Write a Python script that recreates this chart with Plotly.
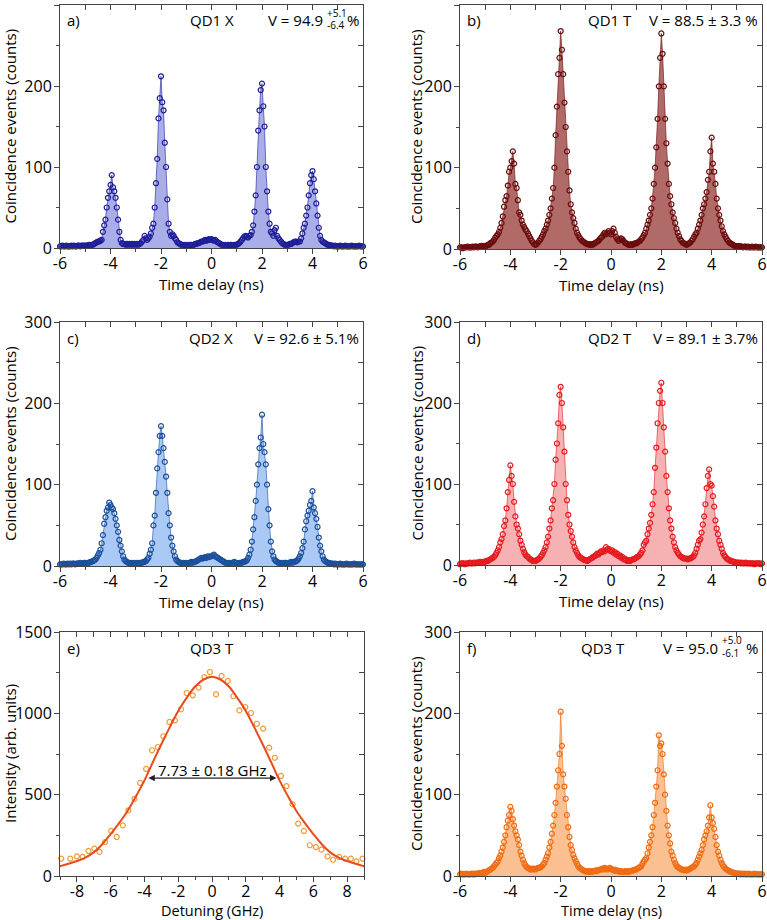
import numpy as np
import plotly.graph_objects as go

W, H = 767, 920
FONT = "Open Sans"
AX = "#444444"

# ---------------- data ----------------
time_delay = np.round(np.linspace(-6, 6, 241), 2)  # ns, 0.05 ns bins

qd1x_counts = (
    [2,2,3,2,2,3,2,2,2,3,2,3,2,2,3,3,2,3,3,3] +
    [3,3,3,4,3,4,4,5,6,7,8,8,9,10,20,28,35,50,62,70] +
    [78,90,75,70,62,50,35,20,10,6,5,5,4,5,4,5,4,5,4,5] +
    [4,5,4,5,6,8,10,15,12,10,12,14,18,25,30,50,80,110,160,185] +
    [212,180,170,130,100,60,30,20,15,17,15,12,10,7,6,5,4,4,3,4] +
    [3,4,3,4,4,3,4,5,5,6,6,7,8,8,9,10,9,10,11,10] +
    [11,10,9,10,8,7,6,5,4,4,3,4,3,4,3,4,4,3,4,4] +
    [4,5,6,8,10,12,14,15,14,13,15,16,20,28,45,65,100,145,170,195] +
    [203,175,150,100,70,45,30,20,18,15,22,25,15,12,10,8,6,5,4,4] +
    [4,4,5,5,6,7,8,8,7,8,8,12,18,25,30,40,50,65,80,90] +
    [95,85,70,55,40,25,15,10,8,7,6,5,4,4,3,3,3,2,3,2] +
    [2,2,3,2,2,2,3,2,2,2,2,3,2,2,2,2,2,3,2,2,2]
)

qd1t_counts = (
    [2,2,1,2,2,2,3,2,2,2,3,2,3,3,2,3,3,4,3,4] +
    [3,4,5,5,7,8,9,11,14,16,18,21,26,32,40,52,60,65,78,95] +
    [100,108,120,105,80,75,60,45,42,35,30,27,24,22,19,16,13,10,8,6] +
    [5,6,8,10,12,15,18,22,25,30,35,42,50,62,75,100,140,175,215,235] +
    [268,245,215,180,150,120,95,72,55,45,38,32,25,20,17,14,12,10,9,8] +
    [7,6,6,5,6,5,6,7,8,9,10,12,14,15,18,20,18,20,22,20] +
    [18,22,25,20,15,12,10,12,13,12,10,8,7,6,5,5,6,5,6,7] +
    [7,8,9,10,12,14,17,20,25,30,35,42,50,62,80,100,125,160,200,235] +
    [265,240,200,160,130,105,80,65,55,45,38,32,25,20,16,12,10,8,7,6] +
    [5,6,7,8,10,12,15,18,20,25,30,35,42,50,55,62,70,85,95,120] +
    [137,105,95,80,62,50,42,35,28,22,18,15,12,10,8,7,6,5,4,4] +
    [3,3,4,3,3,2,3,3,2,3,2,2,3,2,2,3,2,2,2,2,2]
)

qd2x_counts = (
    [2,2,2,3,2,2,3,2,3,2,3,3,2,3,3,3,4,3,3,4] +
    [4,3,4,4,5,5,6,7,8,10,13,16,20,28,38,52,60,68,72,78] +
    [75,72,70,65,58,50,42,32,25,18,12,8,6,5,4,4,3,4,3,4] +
    [3,4,3,4,4,4,5,5,6,8,10,15,20,28,50,62,90,120,140,160] +
    [172,160,145,128,110,90,65,50,35,25,18,12,8,6,5,4,4,3,4,3] +
    [4,3,4,4,5,4,5,5,6,7,8,9,10,9,10,11,10,12,11,12] +
    [12,13,14,12,11,10,9,8,7,6,5,4,4,3,4,3,4,3,5,4] +
    [4,3,4,4,4,5,5,6,7,10,14,20,30,45,60,80,100,125,145,158] +
    [186,150,140,125,100,70,50,30,18,12,8,6,5,4,4,3,4,3,4,4] +
    [3,4,4,5,4,5,5,6,7,9,12,16,22,30,45,55,62,68,75,80] +
    [92,72,65,58,48,35,25,18,12,8,6,5,4,4,3,3,3,2,3,2] +
    [2,2,3,2,2,2,2,3,2,2,2,2,2,3,2,2,2,2,2,2,2]
)

qd2t_counts = (
    [1,2,2,2,1,2,2,2,3,2,2,3,2,3,3,3,4,3,4,4] +
    [4,5,5,6,7,8,9,10,12,15,18,22,28,32,38,48,55,70,90,105] +
    [123,110,100,78,60,50,45,38,30,25,20,16,13,11,10,8,7,6,5,5] +
    [5,6,7,8,10,12,15,18,22,28,35,45,55,70,80,100,130,150,175,210] +
    [220,200,170,140,100,80,62,50,42,35,28,22,18,15,12,10,9,8,7,6] +
    [6,5,6,7,8,9,10,11,12,14,13,15,17,16,18,17,22,19,20,18] +
    [17,18,15,16,13,14,11,12,9,10,7,8,6,5,6,5,6,7,7,8] +
    [9,10,11,13,15,18,25,28,30,38,45,52,62,75,90,120,145,175,200,215] +
    [225,200,170,140,110,90,70,55,45,35,28,22,18,15,13,11,10,9,8,8] +
    [8,7,8,8,9,10,12,15,20,25,30,32,40,50,60,75,95,110,118,100] +
    [98,85,72,55,45,38,30,25,20,15,12,10,8,7,6,5,5,4,4,3] +
    [3,3,3,2,3,2,2,3,2,2,2,2,2,2,1,2,2,2,2,1,2]
)

qd3t_counts = (
    [2,3,2,2,2,3,2,2,2,3,2,3,2,3,3,3,4,3,4,5] +
    [4,5,6,7,8,9,10,12,14,16,18,22,25,30,35,42,50,60,68,75] +
    [85,80,70,62,55,50,45,38,30,25,20,16,13,11,10,9,8,9,8,9] +
    [8,9,10,10,11,12,14,16,20,24,28,35,42,52,62,75,90,110,130,150] +
    [202,160,125,110,95,75,60,48,38,32,26,22,18,15,12,10,9,8,7,6] +
    [6,5,6,5,6,5,6,6,7,6,7,8,8,9,8,10,9,8,9,10] +
    [9,8,7,8,6,7,6,5,6,5,5,6,5,6,5,6,6,7,7,8] +
    [8,9,10,11,12,15,18,20,22,28,35,42,50,60,75,90,110,130,173,160] +
    [163,150,125,100,80,62,50,40,30,25,20,16,13,11,10,9,8,8,7,8] +
    [7,8,8,9,10,11,12,14,16,20,24,28,32,38,45,50,55,62,72,87] +
    [72,65,58,48,38,30,25,20,16,13,11,9,8,7,6,5,5,4,4,3] +
    [3,3,3,2,3,2,3,2,2,3,2,2,2,2,3,2,2,2,2,2,2]
)

detuning = [-8.93,-8.39,-8.0,-7.66,-7.31,-6.96,-6.66,-6.33,-5.97,-5.64,-5.28,-4.95,-4.59,
            -4.26,-3.90,-3.55,-3.21,-2.88,-2.52,-2.19,-1.83,-1.50,-1.14,-0.79,-0.45,-0.12,
            0.24,0.57,0.93,1.26,1.62,1.97,2.31,2.66,3.03,3.39,3.72,4.08,4.41,4.77,5.10,
            5.44,5.79,6.15,6.48,6.84,7.17,7.53,7.88,8.22,8.55,8.91]
intensity = [107,107,121,117,154,168,148,209,277,240,311,404,475,572,658,773,793,859,947,957,
             1025,1125,1111,1158,1223,1254,1117,1230,1199,1105,1018,1039,1002,936,906,789,727,
             615,553,440,322,277,189,178,162,121,100,117,107,107,90,107]

fit_detuning = np.round(np.linspace(-9, 9, 37), 2)
fit_intensity = [60,75,92,113,145,195,258,325,400,490,588,700,810,915,1015,1095,1165,1208,
                 1225,1208,1165,1095,1015,915,810,700,588,490,400,325,258,195,145,113,92,75,60]

fwhm_left, fwhm_right, fwhm_level = -3.86, 3.82, 602
fwhm_text = "7.73 ± 0.18 GHz"

time_ticks = [-6, -4, -2, 0, 2, 4, 6]
time_tick_text = ["-6", "-4", "-2", "0", "2", "4", "6"]
count_ticks = [0, 100, 200, 300]
count_tick_text = ["0", "100", "200", "300"]
det_ticks = [-8, -6, -4, -2, 0, 2, 4, 6, 8]
det_tick_text = ["-8", "-6", "-4", "-2", "0", "2", "4", "6", "8"]
int_ticks = [0, 500, 1000, 1500]
int_tick_text = ["0", "500", "1000", "1500"]

# ---------------- panels ----------------
panels = [
    dict(box=(60, 363, 5, 248), y=qd1x_counts, mk="#1e1e98", fill="rgb(170,174,232)",
         label="a)", name="QD1 X", name_x=212, vis=("V = 94.9", "+5.1", "-6.4"), vis_x=325),
    dict(box=(460, 762, 5, 249), y=qd1t_counts, mk="#6a0c0c", fill="rgb(176,106,104)",
         label="b)", name="QD1 T", name_x=610, vis="V = 88.5 ± 3.3 %"),
    dict(box=(60, 363, 322, 566), y=qd2x_counts, mk="#1b4f9c", fill="rgb(170,202,245)",
         label="c)", name="QD2 X", name_x=211, vis="V = 92.6 ± 5.1%"),
    dict(box=(460, 762, 322, 565), y=qd2t_counts, mk="#e51a1f", fill="rgb(246,178,178)",
         label="d)", name="QD2 T", name_x=610, vis="V = 89.1 ± 3.7%"),
    dict(box=(60, 364, 632, 876), spectrum=True, mk="#f29a3a", line="#e84b1c",
         label="e)", name="QD3 T", name_x=212),
    dict(box=(460, 762, 632, 876), y=qd3t_counts, mk="#f06b12", fill="rgb(250,192,145)",
         label="f)", name="QD3 T", name_x=603, vis=("V = 95.0", "+5.0", "-6.1"), vis_x=720),
]


def axn(p, n):
    return p if n == 1 else f"{p}{n}"


def lk(p, n):
    return f"{p}axis" if n == 1 else f"{p}axis{n}"


fig = go.Figure()
layout = {}
annotations = []


def ann(text, xpx, ypx, xanchor="left", size=15, angle=0, yanchor="middle", pad=1):
    annotations.append(dict(text=text, x=xpx / W, y=1 - ypx / H, xref="paper", yref="paper",
                            xanchor=xanchor, yanchor=yanchor, showarrow=False, textangle=angle,
                            borderpad=pad, font=dict(family=FONT, size=size, color="black")))


tickfont = dict(family=FONT, size=16, color="black")

for k, P in enumerate(panels):
    p, o = 2 * k + 1, 2 * k + 2
    xa, ya, xo, yo = axn("x", p), axn("y", p), axn("x", o), axn("y", o)
    x0, x1, y0, y1 = P["box"]
    spec = P.get("spectrum", False)
    xr = [-9, 9] if spec else [-6, 6]
    yr = [0, 1500] if spec else [0, 300]
    xt, xtt = (det_ticks, det_tick_text) if spec else (time_ticks, time_tick_text)
    yt, ytt = (int_ticks, int_tick_text) if spec else (count_ticks, count_tick_text)
    ymin = 250 if spec else 50

    common = dict(automargin=False, showgrid=False, zeroline=False, tickwidth=1, tickcolor=AX)
    layout[lk("x", p)] = dict(domain=[x0 / W, x1 / W], range=xr, anchor=ya, showline=True,
                              mirror=True, linecolor=AX, linewidth=1, ticks="outside",
                              ticklen=5, tickmode="array",
                              tickvals=xt, ticktext=xtt, tickfont=tickfont,
                              minor=dict(tickmode="linear", tick0=1, dtick=2, ticks="outside",
                                         ticklen=3, tickcolor=AX, tickwidth=1),
                              ticklabelstandoff=-4, **common)
    layout[lk("x", o)] = dict(overlaying=xa, side="top", anchor=ya, range=xr, ticks="inside",
                              ticklen=5, tickmode="linear", tick0=0,
                              dtick=1, showticklabels=False, showline=False, **common)
    layout[lk("y", p)] = dict(domain=[1 - y1 / H, 1 - y0 / H], range=yr, anchor=xa,
                              showline=True, mirror=True, linecolor=AX, linewidth=1,
                              ticks="outside", ticklen=5,
                              tickmode="array", tickvals=yt, ticktext=ytt, tickfont=tickfont,
                              minor=dict(tickmode="linear", tick0=0, dtick=ymin, ticks="outside",
                                         ticklen=3, tickcolor=AX, tickwidth=1),
                              ticklabelstandoff=-1, **common)
    layout[lk("y", o)] = dict(overlaying=ya, side="right", anchor=xa, range=yr, ticks="inside",
                              ticklen=5, tickmode="linear", tick0=0,
                              dtick=ymin, showticklabels=False, showline=False, **common)

    fig.add_trace(go.Scatter(x=[None], y=[None], xaxis=xo, yaxis=yo, showlegend=False,
                             hoverinfo="skip"))

    if spec:
        fig.add_trace(go.Scatter(x=detuning, y=intensity, xaxis=xa, yaxis=ya, mode="markers",
                                 marker=dict(symbol="circle-open", size=5, color=P["mk"],
                                             line=dict(width=1.2, color=P["mk"])),
                                 showlegend=False, cliponaxis=False))
        fig.add_trace(go.Scatter(x=fit_detuning, y=fit_intensity, xaxis=xa, yaxis=ya,
                                 mode="lines", line=dict(color=P["line"], width=2,
                                                         shape="spline"),
                                 showlegend=False))
        annotations.append(dict(x=fwhm_right, y=fwhm_level, ax=fwhm_left, ay=fwhm_level,
                                xref=xa, yref=ya, axref=xa, ayref=ya, text="",
                                showarrow=True, arrowhead=2, arrowside="end+start",
                                arrowsize=1, arrowwidth=1.3, arrowcolor="#222222"))
        annotations.append(dict(x=0, y=654, xref=xa, yref=ya, text=fwhm_text, showarrow=False,
                                xanchor="center", yanchor="middle",
                                font=dict(family=FONT, size=15, color="black")))
    else:
        fig.add_trace(go.Scatter(x=time_delay, y=P["y"], xaxis=xa, yaxis=ya,
                                 mode="lines+markers", fill="tozeroy", fillcolor=P["fill"],
                                 line=dict(color=P["mk"], width=0.6),
                                 marker=dict(symbol="circle-open", size=5, color=P["mk"],
                                             line=dict(width=1.2, color=P["mk"])),
                                 showlegend=False, cliponaxis=False))

    # texts
    ty = y0 + 15.5
    ann(P["label"], x0 + 5, ty, "left")
    ann(P["name"], P["name_x"], ty, "center")
    if not spec:
        if isinstance(P["vis"], tuple):
            main, sup, sub = P["vis"]
            vx = P["vis_x"]
            ann(main, vx, ty, "right")
            ann(sup, vx + 1, ty - 8, "left", size=10, pad=0)
            ann(sub, vx + 1, ty + 5, "left", size=10, pad=0)
            ann("%", x1 - 2, ty, "right")
        else:
            ann(P["vis"], x1 - 2, ty, "right")

    # axis titles
    xc = (x0 + x1) / 2
    if y1 > 800:
        ann("Detuning (GHz)" if spec else "Time delay (ns)", xc, 910.5, "center",
            size=14.5, pad=0)
    else:
        ann("Time delay (ns)", xc, y1 + 36, "center")
    ann("Intensity (arb. units)" if spec else "Coincidence events (counts)",
        10 if x0 < 200 else 416, (y0 + y1) / 2, "center", angle=-90)

layout.update(template="none", width=W, height=H, margin=dict(l=0, r=0, t=0, b=0, pad=0,
                                                               autoexpand=False),
              plot_bgcolor="white", paper_bgcolor="white", showlegend=False,
              annotations=annotations, font=dict(family=FONT, size=15, color="black"))
fig.update_layout(**layout)
fig.write_html(
    "out.html",
    config={"displayModeBar": False, "responsive": False},
    post_script=("document.documentElement.style.margin='0';"
                 "document.documentElement.style.overflow='hidden';"
                 "document.body.style.margin='0';document.body.style.padding='0';"
                 "document.body.style.overflow='hidden';"),
)
